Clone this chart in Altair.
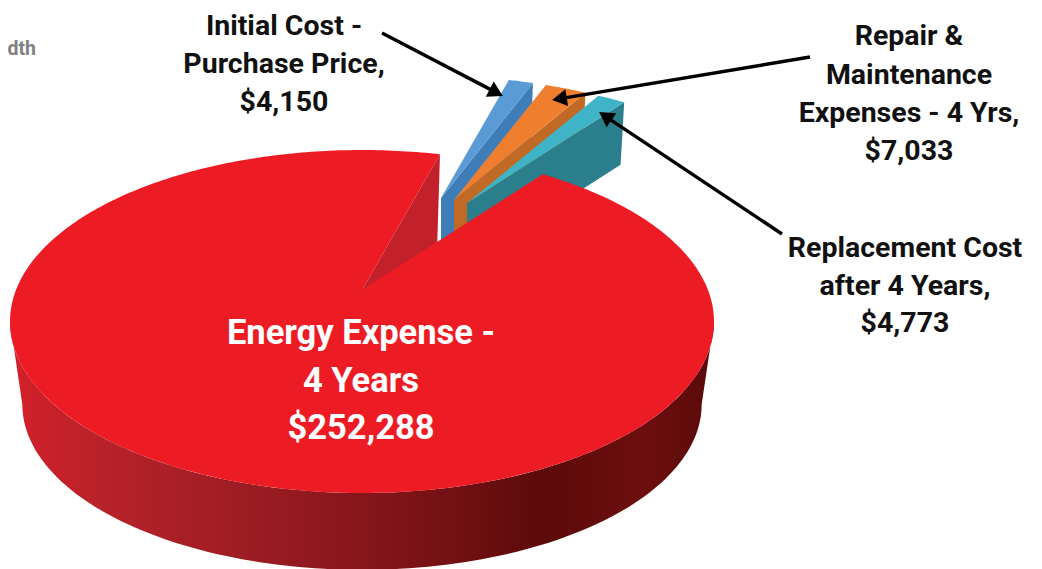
import math
import altair as alt

# ---- chart values ----
categories = ["Energy Expense", "Initial Cost", "Repair & Maintenance", "Replacement Cost"]
values = [252288, 4150, 7033, 4773]
top_colors = ["#ed1c24", "#5b9bd5", "#ef7f2f", "#3fb4c6"]
wall_colors = ["#c2202a", "#3f7db8", "#c06a26", "#2b7f8c"]
apex_points = [(362, 290), (441, 198), (454, 200), (467, 203)]
slice_scale = [1.0, 0.87, 0.87, 0.87]
wall_drop = [84, 60, 60, 60]
wall_shrink = [0.965, 0.977, 0.977, 0.977]

label_lines = ["Initial Cost -", "Purchase Price,", "$4,150",
               "Repair &", "Maintenance", "Expenses - 4 Yrs,", "$7,033",
               "Replacement Cost", "after 4 Years,", "$4,773"]
label_x = [284, 284, 284, 909, 909, 909, 909, 905, 905, 905]
label_y = [26, 64, 102, 36, 75, 113, 151, 248, 286, 323]

energy_lines = ["Energy Expense -", "4 Years", "$252,288"]
energy_x = [361, 361, 361]
energy_y = [334, 382, 429]

arrow_x1 = [382, 810, 782]
arrow_y1 = [33, 57, 234]
arrow_x2 = [503, 552, 599]
arrow_y2 = [96, 100, 112]

W, H = 1026, 561
OFF = 8
START = 36.8
KP, RX, RY = 0.1837, 346.0, 165.7


def rim(t_deg):
    t = math.radians(t_deg)
    sx, cy = math.sin(t), math.cos(t)
    w = 1 + KP * cy
    return RX * sx / w, -RY * cy / w


total = sum(values)
sweep = [v / total * 360 for v in values]
starts = []
c = START
for s in sweep:
    starts.append(c)
    c += s


def arc(a, b, n=120):
    return [a + (b - a) * i / n for i in range(n + 1)]


def feature(ring):
    ring = [list(p) for p in ring]
    ring = ring + [ring[0]]
    return {"type": "Feature", "properties": {},
            "geometry": {"type": "Polygon", "coordinates": [ring]}}


def face(ring, fill):
    return alt.Chart(alt.Data(values=[feature(ring)])).mark_geoshape(
        fill=fill, stroke=None, strokeWidth=0
    ).project(type="identity", scale=1, translate=[-OFF, -OFF])


layers = []

# small exploded slices, painted back to front
for i in [1, 2, 3]:
    ax, ay = apex_points[i]
    sc, d, sh = slice_scale[i], wall_drop[i], wall_shrink[i]
    a, b = starts[i], starts[i] + sweep[i]
    ex, ey = rim(b)
    wall = [(ax, ay), (ax + sc * ex, ay + sc * ey),
            (ax + sc * sh * ex, ay + d + sc * sh * ey), (ax, ay + d)]
    layers.append(face(wall, wall_colors[i]))
    top = [(ax, ay)] + [(ax + sc * rim(t)[0], ay + sc * rim(t)[1]) for t in arc(a, b, 12)]
    layers.append(face(top, top_colors[i]))

# energy slice: outer wall, cut wall, top face
ax, ay = apex_points[0]
d, sh = wall_drop[0], wall_shrink[0]
side_angles = arc(100.6, 259.4)
outer = [(ax + rim(t)[0], ay + rim(t)[1]) for t in side_angles] + \
        [(ax + sh * rim(t)[0], ay + d + sh * rim(t)[1]) for t in reversed(side_angles)]
wall_gradient = alt.LinearGradient(
    gradient="linear", x1=0, x2=1, y1=0, y2=0,
    stops=[alt.GradientStop(offset=0.0, color="#d4202a"),
           alt.GradientStop(offset=0.13, color="#b8222a"),
           alt.GradientStop(offset=0.38, color="#971b21"),
           alt.GradientStop(offset=0.55, color="#7f1418"),
           alt.GradientStop(offset=0.76, color="#5c0a0a"),
           alt.GradientStop(offset=0.9, color="#6d0e0e"),
           alt.GradientStop(offset=1.0, color="#5a0a0a")])
layers.append(face(outer, wall_gradient))

end_angle = starts[0] + sweep[0]
ex, ey = rim(end_angle)
cut = [(ax, ay), (ax + ex, ay + ey), (ax + sh * ex, ay + d + sh * ey), (ax, ay + d)]
layers.append(face(cut, wall_colors[0]))
top = [(ax, ay)] + [(ax + rim(t)[0], ay + rim(t)[1]) for t in arc(starts[0], end_angle, 360)]
layers.append(face(top, top_colors[0]))

x_scale = alt.Scale(domain=[OFF, OFF + W], range=[0, W], nice=False, zero=False)
y_scale = alt.Scale(domain=[OFF, OFF + H], range=[0, H], nice=False, zero=False)
X = lambda f: alt.X(f, type="quantitative", scale=x_scale, axis=None)
Y = lambda f: alt.Y(f, type="quantitative", scale=y_scale, axis=None)

# arrows
HEAD = 10
rows = []
tips = []
for x1, y1, x2, y2 in zip(arrow_x1, arrow_y1, arrow_x2, arrow_y2):
    L = math.hypot(x2 - x1, y2 - y1)
    ux, uy = (x2 - x1) / L, (y2 - y1) / L
    rows.append({"x": x1, "y": y1, "x2": x2 - ux * HEAD, "y2": y2 - uy * HEAD})
    tips.append({"x": x2 - ux * HEAD, "y": y2 - uy * HEAD,
                 "a": math.degrees(math.atan2(ux, -uy)) % 360})

layers.append(alt.Chart(alt.Data(values=rows)).mark_rule(color="#000000", strokeWidth=3.4).encode(
    x=X("x"), y=Y("y"), x2="x2:Q", y2="y2:Q"))
layers.append(alt.Chart(alt.Data(values=tips)).mark_point(
    shape="triangle", filled=True, color="#000000", size=290, opacity=1).encode(
    x=X("x"), y=Y("y"), angle=alt.Angle("a:Q", scale=None)))

FONT = "Roboto"
layers.append(alt.Chart(alt.Data(values=[
    {"t": t, "x": x, "y": y} for t, x, y in zip(label_lines, label_x, label_y)
])).mark_text(font=FONT, fontWeight="bold", fontSize=28.5, color="#111111",
              align="center", baseline="middle").encode(x=X("x"), y=Y("y"), text="t:N"))
layers.append(alt.Chart(alt.Data(values=[
    {"t": t, "x": x, "y": y} for t, x, y in zip(energy_lines, energy_x, energy_y)
])).mark_text(font=FONT, fontWeight="bold", fontSize=34.5, color="#ffffff",
              align="center", baseline="middle").encode(x=X("x"), y=Y("y"), text="t:N"))
layers.append(alt.Chart(alt.Data(values=[{"t": "dth", "x": 36, "y": 49}])).mark_text(
    font=FONT, fontWeight="bold", fontSize=19.5, color="#808080",
    align="right", baseline="middle").encode(x=X("x"), y=Y("y"), text="t:N"))

chart = alt.layer(*layers).resolve_scale(x="shared", y="shared").properties(
    width=W, height=H, padding=0, background="#ffffff",
    autosize=alt.AutoSizeParams(type="none", contains="padding")
).configure_view(stroke=None)

chart.save("out.html", embed_options={"renderer": "svg", "actions": False})
